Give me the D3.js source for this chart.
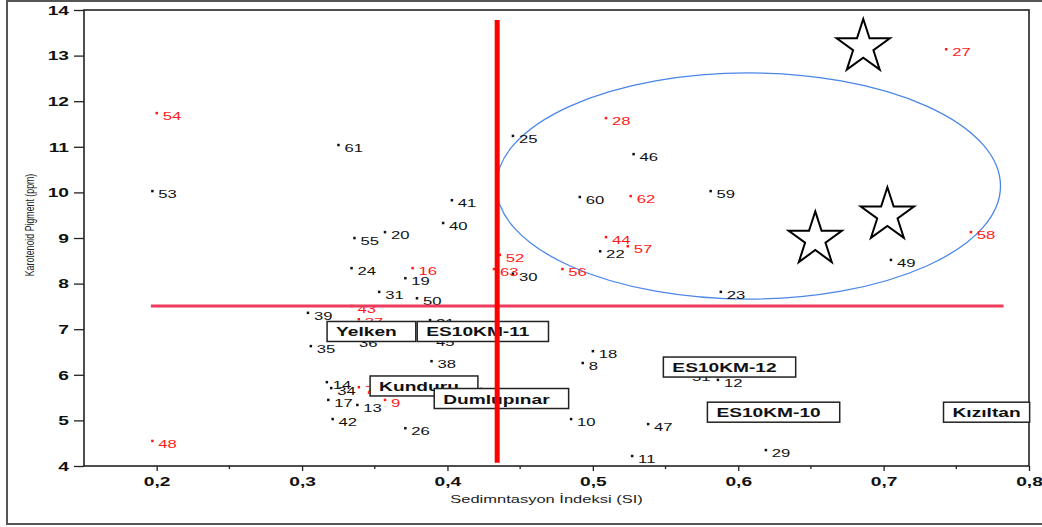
<!DOCTYPE html>
<html>
<head>
<meta charset="utf-8">
<script src="https://cdn.jsdelivr.net/npm/d3@7"></script>
<style>
  body { margin: 0; background: #fff; }
  svg text { font-family: "Liberation Sans", Arial, sans-serif; }
</style>
</head>
<body>
<svg id="chart"></svg>
<script>
// sample numbers, SI (x) and carotenoid pigment (y)
var sampleIds = ["54","53","48","61","25","28","46","60","62","59","27","58","49","23","44","57","22","56","52","63","30",
  "41","40","20","55","24","16","19","31","50","43","39","37","21","36","45","35","38","18","8","51","12",
  "14","34","7","32","17","13","9","42","26","10","47","11","29"];
var siValues = [0.200,0.197,0.197,0.325,0.445,0.509,0.528,0.491,0.526,0.581,0.743,0.760,0.705,0.588,0.509,0.524,0.505,0.479,0.436,0.432,0.445,
  0.403,0.397,0.357,0.336,0.334,0.376,0.371,0.353,0.379,0.334,0.304,0.339,0.388,0.335,0.388,0.306,0.389,0.500,0.493,0.564,0.586,
  0.317,0.320,0.339,0.423,0.318,0.338,0.357,0.321,0.371,0.485,0.538,0.527,0.619];
var pigmentValues = [11.74,10.03,4.55,11.04,11.24,11.63,10.84,9.90,9.92,10.03,13.14,9.13,8.52,7.82,9.02,8.82,8.71,8.32,8.63,8.32,8.22,
  9.83,9.33,9.13,9.00,8.34,8.34,8.12,7.82,7.68,7.51,7.36,7.22,7.20,6.76,6.79,6.63,6.30,6.52,6.26,6.02,5.89,
  5.84,5.71,5.73,5.69,5.45,5.34,5.45,5.03,4.83,5.03,4.92,4.22,4.35];
var redIds = ["54","48","28","62","27","58","44","57","56","52","63","16","43","37","7","9"];

// variety names (box left edge x, box centre y)
var varieties = ["Yelken","ES10KM-11","Kunduru","Dumlupınar","ES10KM-12","ES10KM-10","Kızıltan"];
var varietyX = [0.3172,0.3792,0.3468,0.3909,0.5485,0.5788,0.7412];
var varietyY = [6.95,6.95,5.755,5.48,6.17,5.18,5.18];

// stars
var starX = [0.686,0.7026,0.653];
var starY = [13.19,9.50,8.97];

// ellipse: centre and radii in data units
var ellipseCenter = [0.607,10.14];
var ellipseRadius = [0.1734,2.48];

// threshold lines
var siCut = 0.4342, siCutRange = [4.07,13.78];
var pigmentCut = 7.51, pigmentCutRange = [0.196,0.7825];

var xTicks = [0.2,0.3,0.4,0.5,0.6,0.7,0.8];
var xMinor = [0.25,0.35,0.45,0.55,0.65,0.75];
var yTicks = [4,5,6,7,8,9,10,11,12,13,14];

var width = 1042, height = 527;
var plot = { left: 84, right: 1029, top: 10, bottom: 466 };
var stretch = 1.45;

var svg = d3.select("#chart").attr("width", width).attr("height", height);

var x = d3.scaleLinear().domain([0.15, 0.8]).range([plot.left, plot.right]);
var y = d3.scaleLinear().domain([4, 14]).range([plot.bottom, plot.top]);

var trLocale = d3.formatLocale({ decimal: ",", thousands: ".", grouping: [3], currency: ["", ""] });
var fmtX = trLocale.format(".1f");

// outer frame
svg.append("rect")
  .attr("x", 7).attr("y", 1)
  .attr("width", 1100).attr("height", 523)
  .attr("fill", "none").attr("stroke", "#555").attr("stroke-width", 2);

// y axis
var yAxis = svg.append("g")
  .attr("transform", `translate(${plot.left},0)`)
  .call(d3.axisLeft(y).tickValues(yTicks).tickSize(10).tickSizeOuter(0).tickFormat(d3.format("d")));
yAxis.select(".domain").remove();
yAxis.selectAll("line").attr("stroke", "#222").attr("stroke-width", 1.3);
yAxis.selectAll("text")
  .attr("x", -15 / 1.6).attr("dy", "0.36em")
  .attr("transform", "scale(1.6,1)")
  .style("font-size", "12px").style("font-weight", "bold").attr("fill", "#111");

// x axis
var xAxis = svg.append("g")
  .attr("transform", `translate(0,${plot.bottom})`)
  .call(d3.axisBottom(x).tickValues(xTicks).tickSize(5).tickSizeOuter(0).tickFormat(fmtX));
xAxis.select(".domain").remove();
xAxis.selectAll("line").attr("stroke", "#222").attr("stroke-width", 1.3);
xAxis.selectAll("text")
  .attr("y", 20).attr("dy", 0)
  .attr("transform", "scale(1.6,1)")
  .style("font-size", "12px").style("font-weight", "bold").attr("fill", "#111");

svg.append("g").selectAll("line")
  .data(xMinor).enter().append("line")
  .attr("x1", d => x(d)).attr("x2", d => x(d))
  .attr("y1", plot.bottom).attr("y2", plot.bottom + 3)
  .attr("stroke", "#222").attr("stroke-width", 1.3);

// plot frame
svg.append("rect")
  .attr("x", plot.left).attr("y", plot.top)
  .attr("width", plot.right - plot.left).attr("height", plot.bottom - plot.top)
  .attr("fill", "none").attr("stroke", "#222").attr("stroke-width", 1.6);

// axis titles
svg.append("text")
  .attr("transform", `translate(${(plot.left + plot.right) / 2 - 10},503) scale(1.5,1)`)
  .attr("text-anchor", "middle")
  .style("font-size", "11px").attr("fill", "#222")
  .text("Sedimntasyon İndeksi (SI)");

svg.append("text")
  .attr("transform", "translate(34,225) scale(1.5,1) rotate(-90)")
  .attr("text-anchor", "middle")
  .style("font-size", "8.8px").attr("fill", "#222")
  .text("Karotenoid Pigment (ppm)");

// ellipse
svg.append("ellipse")
  .attr("cx", x(ellipseCenter[0])).attr("cy", y(ellipseCenter[1]))
  .attr("rx", x(ellipseCenter[0] + ellipseRadius[0]) - x(ellipseCenter[0]))
  .attr("ry", y(ellipseCenter[1]) - y(ellipseCenter[1] + ellipseRadius[1]))
  .attr("fill", "none").attr("stroke", "#4a86e8").attr("stroke-width", 1.3);

// points
var points = sampleIds.map((id, i) => ({ id: id, si: siValues[i], pig: pigmentValues[i], red: redIds.indexOf(id) >= 0 }));

var pg = svg.append("g");
pg.selectAll("rect")
  .data(points).enter().append("rect")
  .attr("x", d => x(d.si) - 1.2).attr("y", d => y(d.pig) - 1.2)
  .attr("width", 2.5).attr("height", 2.5)
  .attr("fill", d => d.red ? "#ff1a1a" : "#111");

pg.selectAll("text")
  .data(points).enter().append("text")
  .attr("transform", d => `translate(${x(d.si) + 6},${y(d.pig) + 7}) scale(${stretch},1)`)
  .style("font-size", "11.5px")
  .attr("fill", d => d.red ? "#ff1a1a" : "#111")
  .text(d => d.id);

// variety boxes
var vg = svg.append("g").selectAll("g")
  .data(varieties).enter().append("g")
  .attr("transform", (d, i) => `translate(${x(varietyX[i])},${y(varietyY[i])})`);

var vRect = vg.append("rect")
  .attr("y", -10).attr("height", 20)
  .attr("fill", "#fff").attr("stroke", "#222").attr("stroke-width", 1.5);

var vText = vg.append("text")
  .attr("transform", "translate(9,5) scale(1.42,1)")
  .style("font-size", "13.5px").style("font-weight", "bold").attr("fill", "#111")
  .text(d => d);

vText.each(function (d, i) {
  var w = this.getComputedTextLength() * 1.42;
  d3.select(vRect.nodes()[i]).attr("width", w + (d === "Kızıltan" ? 18 : 28));
});

// threshold lines
svg.append("line")
  .attr("x1", x(pigmentCutRange[0])).attr("x2", x(pigmentCutRange[1]))
  .attr("y1", y(pigmentCut)).attr("y2", y(pigmentCut))
  .attr("stroke", "#ee3b5b").attr("stroke-width", 3);

svg.append("line")
  .attr("x1", x(siCut)).attr("x2", x(siCut))
  .attr("y1", y(siCutRange[0])).attr("y2", y(siCutRange[1]))
  .attr("stroke", "#ff0000").attr("stroke-width", 5);

// stars
var starPath = function (R) {
  var r = R * 0.382, pts = [];
  for (var k = 0; k < 10; k++) {
    var a = -Math.PI / 2 + k * Math.PI / 5;
    var rad = k % 2 === 0 ? R : r;
    pts.push([rad * Math.cos(a), rad * Math.sin(a)]);
  }
  return "M" + pts.map(p => p.join(",")).join("L") + "Z";
};

svg.append("g").selectAll("path")
  .data(starX).enter().append("path")
  .attr("transform", (d, i) => `translate(${x(d)},${y(starY[i])})`)
  .attr("d", starPath(28))
  .attr("fill", "#fff").attr("stroke", "#000").attr("stroke-width", 2);
</script>
</body>
</html>
